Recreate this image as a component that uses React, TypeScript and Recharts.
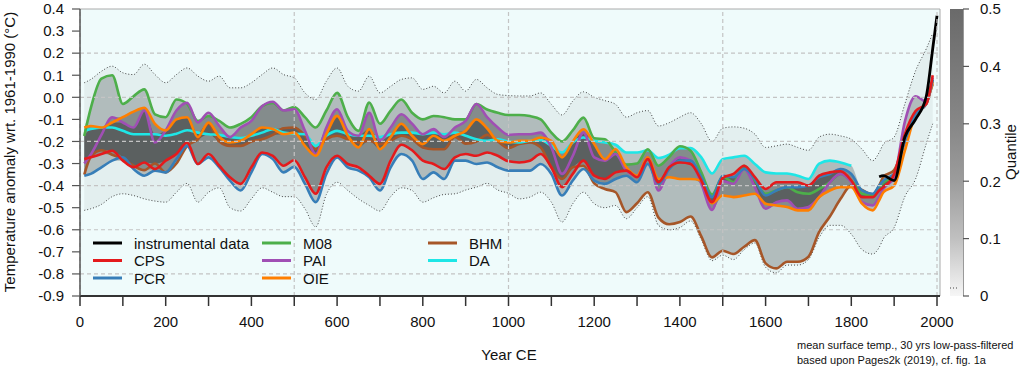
import React from 'react';
import { ComposedChart, Area, Line, XAxis, YAxis, CartesianGrid, ReferenceLine } from 'recharts';

if (typeof document !== 'undefined') document.body.style.margin = '0';

const FONT = '"Liberation Sans", Arial, Helvetica, sans-serif';

// sample years (CE)
const years = [
  10, 25, 50, 75, 100, 125, 150, 175, 200, 225, 250, 275, 300, 325, 350, 375, 400, 425, 450, 475, 500,
  525, 550, 575, 600, 625, 650, 675, 700, 725, 750, 775, 800, 825, 850, 875, 900, 925, 950, 975, 1000,
  1025, 1050, 1075, 1100, 1125, 1150, 1175, 1200, 1225, 1250, 1275, 1300, 1325, 1350, 1375, 1400, 1425, 1450, 1475, 1500,
  1525, 1550, 1575, 1600, 1625, 1650, 1675, 1700, 1725, 1750, 1775, 1800, 1825, 1850, 1865, 1875, 1900, 1925, 1950, 1975, 1990, 2000,
];

const cps = [
  -0.28, -0.272, -0.257, -0.242, -0.287, -0.317, -0.295, -0.325, -0.287, -0.257, -0.205, -0.302, -0.257, -0.31, -0.362, -0.392, -0.317, -0.25, -0.265, -0.31, -0.285,
  -0.362, -0.437, -0.317, -0.265, -0.302, -0.317, -0.355, -0.392, -0.287, -0.215, -0.24, -0.287, -0.302, -0.325, -0.272, -0.257, -0.265, -0.25, -0.265, -0.29,
  -0.295, -0.287, -0.257, -0.317, -0.407, -0.347, -0.287, -0.355, -0.37, -0.34, -0.332, -0.362, -0.28, -0.385, -0.317, -0.295, -0.302, -0.377, -0.475, -0.365,
  -0.347, -0.31, -0.362, -0.415, -0.385, -0.385, -0.385, -0.4, -0.355, -0.34, -0.335, -0.377, -0.452, -0.452, -0.422, -0.407, -0.347, -0.167, -0.062, -0.03, 0.1, null,
];

const pcr = [
  -0.355, -0.347, -0.317, -0.287, -0.272, -0.325, -0.355, -0.332, -0.34, -0.28, -0.22, -0.302, -0.272, -0.317, -0.377, -0.422, -0.34, -0.257, -0.28, -0.34, -0.315,
  -0.392, -0.475, -0.347, -0.272, -0.317, -0.332, -0.362, -0.422, -0.317, -0.257, -0.287, -0.37, -0.34, -0.37, -0.287, -0.287, -0.302, -0.295, -0.317, -0.332,
  -0.332, -0.332, -0.302, -0.347, -0.445, -0.377, -0.325, -0.377, -0.392, -0.37, -0.355, -0.385, -0.302, -0.392, -0.325, -0.287, -0.287, -0.362, -0.452, -0.355,
  -0.362, -0.325, -0.37, -0.445, -0.422, -0.407, -0.407, -0.4, -0.362, -0.347, -0.325, -0.347, -0.422, -0.437, -0.4, -0.377, -0.347, -0.197, -0.077, -0.03, 0.08, null,
];

const m08 = [
  -0.175, -0.05, 0.085, 0.1, -0.03, 0.005, 0.036, -0.077, -0.09, -0.01, -0.03, -0.107, -0.085, -0.107, -0.137, -0.12, -0.09, -0.04, -0.025, -0.06, -0.044,
  -0.09, -0.137, -0.06, 0.02, -0.09, -0.152, -0.024, -0.12, -0.06, -0.01, -0.07, -0.1, -0.085, -0.09, -0.1, -0.1, -0.03, -0.055, -0.07, -0.08,
  -0.08, -0.085, -0.1, -0.16, -0.2, -0.15, -0.092, -0.185, -0.19, -0.25, -0.305, -0.3, -0.235, -0.31, -0.27, -0.222, -0.242, -0.34, -0.44, -0.36,
  -0.385, -0.31, -0.377, -0.437, -0.422, -0.407, -0.43, -0.437, -0.415, -0.385, -0.347, -0.377, -0.437, -0.445, -0.407, -0.385, -0.355, -0.182, -0.077, -0.016, 0.08, null,
];

const pai = [
  -0.3, -0.26, -0.17, -0.09, -0.114, -0.137, -0.06, -0.205, -0.15, -0.06, -0.025, -0.114, -0.07, -0.13, -0.18, -0.137, -0.107, -0.04, -0.02, -0.06, -0.054,
  -0.152, -0.257, -0.137, -0.054, -0.152, -0.174, -0.07, -0.197, -0.137, -0.077, -0.12, -0.167, -0.144, -0.18, -0.137, -0.107, -0.03, -0.09, -0.137, -0.17,
  -0.167, -0.167, -0.16, -0.227, -0.347, -0.265, -0.16, -0.272, -0.287, -0.257, -0.332, -0.355, -0.272, -0.422, -0.317, -0.272, -0.287, -0.392, -0.51, -0.38,
  -0.392, -0.325, -0.407, -0.505, -0.475, -0.467, -0.505, -0.497, -0.452, -0.385, -0.347, -0.385, -0.475, -0.49, -0.452, -0.415, -0.362, -0.11, 0.005, -0.02, 0.09, null,
];

const oie = [
  -0.137, -0.13, -0.137, -0.114, -0.09, -0.065, -0.047, -0.12, -0.15, -0.1, -0.09, -0.18, -0.114, -0.18, -0.205, -0.197, -0.167, -0.137, -0.144, -0.167, -0.16,
  -0.22, -0.265, -0.167, -0.084, -0.174, -0.227, -0.144, -0.235, -0.18, -0.12, -0.174, -0.212, -0.174, -0.197, -0.174, -0.152, -0.1, -0.14, -0.197, -0.205,
  -0.197, -0.197, -0.182, -0.197, -0.272, -0.2, -0.145, -0.212, -0.28, -0.235, -0.317, -0.355, -0.272, -0.37, -0.362, -0.37, -0.37, -0.377, -0.48, -0.445,
  -0.452, -0.445, -0.437, -0.482, -0.49, -0.497, -0.512, -0.512, -0.452, -0.422, -0.407, -0.407, -0.482, -0.512, -0.467, -0.43, -0.4, -0.242, -0.077, -0.03, 0.07, null,
];

const bhm = [
  -0.35, -0.27, -0.24, -0.26, -0.28, -0.31, -0.33, -0.3, -0.34, -0.3, -0.22, -0.19, -0.12, -0.2, -0.22, -0.22, -0.2, -0.19, -0.17, -0.14, -0.137,
  -0.174, -0.235, -0.19, -0.174, -0.19, -0.205, -0.197, -0.212, -0.197, -0.174, -0.19, -0.227, -0.235, -0.235, -0.18, -0.21, -0.2, -0.17, -0.2, -0.23,
  -0.212, -0.204, -0.227, -0.317, -0.37, -0.317, -0.31, -0.39, -0.415, -0.43, -0.52, -0.48, -0.43, -0.545, -0.575, -0.565, -0.54, -0.63, -0.725, -0.695,
  -0.71, -0.677, -0.647, -0.752, -0.775, -0.745, -0.745, -0.722, -0.61, -0.54, -0.46, -0.4, -0.42, -0.44, -0.4, -0.36, -0.33, -0.2, -0.08, -0.02, 0.06, null,
];

const da = [
  -0.152, -0.144, -0.137, -0.137, -0.152, -0.167, -0.167, -0.167, -0.174, -0.165, -0.149, -0.16, -0.167, -0.17, -0.18, -0.185, -0.174, -0.16, -0.144, -0.16, -0.165,
  -0.167, -0.22, -0.174, -0.152, -0.167, -0.174, -0.174, -0.18, -0.167, -0.16, -0.16, -0.167, -0.16, -0.167, -0.16, -0.174, -0.19, -0.197, -0.19, -0.2,
  -0.204, -0.197, -0.194, -0.22, -0.25, -0.204, -0.182, -0.197, -0.205, -0.215, -0.25, -0.25, -0.24, -0.275, -0.26, -0.23, -0.23, -0.272, -0.345, -0.28,
  -0.272, -0.265, -0.302, -0.34, -0.345, -0.345, -0.355, -0.37, -0.3, -0.287, -0.295, -0.31, null, null, null, null, null, null, null, null, null, null,
];

// dotted envelope
const upper = [
  0.066, 0.081, 0.118, 0.141, 0.111, 0.103, 0.15, 0.103, 0.066, 0.103, 0.133, 0.096, 0.073, 0.096, 0.043, 0.043, 0.066, 0.103, 0.133, 0.103, 0.088,
  0.02, -0.01, 0.073, 0.133, 0.05, 0.028, 0.096, 0.02, 0.05, 0.081, 0.088, 0.036, 0.05, 0.02, 0.073, 0.028, 0.081, 0.043, 0.013, 0.008,
  0.006, 0.006, 0.02, -0.032, -0.08, -0.017, 0.025, 0, -0.015, -0.032, -0.09, -0.07, -0.06, -0.13, -0.115, -0.09, -0.07, -0.12, -0.2, -0.14,
  -0.134, -0.14, -0.167, -0.227, -0.22, -0.212, -0.227, -0.24, -0.18, -0.167, -0.175, -0.19, -0.235, -0.287, -0.25, -0.212, -0.18, -0.03, 0.12, 0.22, 0.29, null,
];

const lower = [
  -0.512, -0.505, -0.485, -0.45, -0.437, -0.445, -0.46, -0.47, -0.475, -0.43, -0.39, -0.475, -0.43, -0.41, -0.5, -0.515, -0.46, -0.41, -0.43, -0.45, -0.45,
  -0.505, -0.587, -0.44, -0.385, -0.422, -0.46, -0.49, -0.515, -0.45, -0.41, -0.422, -0.475, -0.455, -0.44, -0.437, -0.42, -0.407, -0.39, -0.42, -0.435,
  -0.46, -0.452, -0.43, -0.475, -0.565, -0.482, -0.43, -0.482, -0.5, -0.49, -0.55, -0.5, -0.45, -0.58, -0.6, -0.59, -0.56, -0.645, -0.74, -0.715,
  -0.735, -0.69, -0.66, -0.77, -0.795, -0.76, -0.76, -0.735, -0.635, -0.58, -0.58, -0.62, -0.69, -0.71, -0.68, -0.64, -0.59, -0.45, -0.37, -0.21, -0.12, null,
];

// instrumental record (only at the end)
const instYears = [1865, 1875, 1900, 1925, 1950, 1975, 1990, 2000];
const instValues = [-0.36, -0.355, -0.377, -0.18, -0.1, 0.005, 0.22, 0.37];

const xTicks = [0, 100, 200, 300, 400, 500, 600, 700, 800, 900, 1000, 1100, 1200, 1300, 1400, 1500, 1600, 1700, 1800, 1900, 2000];
const yTicks = [0.4, 0.3, 0.2, 0.1, 0, -0.1, -0.2, -0.3, -0.4, -0.5, -0.6, -0.7, -0.8, -0.9];
const qTicks = [0, 0.1, 0.2, 0.3, 0.4, 0.5];
const gridY = [0.2, 0, -0.2, -0.4, -0.6, -0.8];
const gridX = [0, 500, 1000, 1500, 2000];

const series = [
  { key: 'bhm', name: 'BHM', color: '#a65628', values: bhm },
  { key: 'da', name: 'DA', color: '#1ee6e6', values: da },
  { key: 'm08', name: 'M08', color: '#4daf4a', values: m08 },
  { key: 'pai', name: 'PAI', color: '#a04fb4', values: pai },
  { key: 'oie', name: 'OIE', color: '#ff7f00', values: oie },
  { key: 'pcr', name: 'PCR', color: '#377eb8', values: pcr },
  { key: 'cps', name: 'CPS', color: '#e41a1c', values: cps },
];

const legendItems = [
  { name: 'instrumental data', color: '#000000', col: 0, row: 0 },
  { name: 'CPS', color: '#e41a1c', col: 0, row: 1 },
  { name: 'PCR', color: '#377eb8', col: 0, row: 2 },
  { name: 'M08', color: '#4daf4a', col: 1, row: 0 },
  { name: 'PAI', color: '#a04fb4', col: 1, row: 1 },
  { name: 'OIE', color: '#ff7f00', col: 1, row: 2 },
  { name: 'BHM', color: '#a65628', col: 2, row: 0 },
  { name: 'DA', color: '#1ee6e6', col: 2, row: 1 },
];
const legendColX = [93, 262, 428];
const legendRowY = [243, 260.5, 278];

// build chart rows; shading bands are nested ranges of the sorted reconstructions
const rows = years.map((year, i) => {
  const row: Record<string, unknown> = { year };
  series.forEach(s => { row[s.key] = s.values[i]; });
  const k = instYears.indexOf(year);
  row.inst = k >= 0 ? instValues[k] : null;
  row.upper = upper[i];
  row.lower = lower[i];
  row.env = upper[i] == null ? null : [lower[i], upper[i]];
  const vals = series.map(s => s.values[i]).filter((v): v is number => v != null).sort((a, b) => a - b);
  const n = vals.length;
  for (let b = 0; b < 3; b++) {
    row['band' + b] = n >= 2 * b + 2 ? [vals[b], vals[n - 1 - b]] : null;
  }
  return row;
});

const tickStyle = { fill: '#111', fontSize: 15, fontFamily: FONT };

export default function App() {
  return (
    <div style={{ position: 'relative', width: 1022, height: 370, fontFamily: FONT, background: '#fff' }}>
      <ComposedChart width={1022} height={370} data={rows} margin={{ top: 9, right: 0, bottom: 44, left: 0 }}>
        <CartesianGrid yAxisId="t" horizontal={false} vertical={false} fill="#effbfb" />
        <XAxis
          dataKey="year"
          type="number"
          domain={[0, 2007]}
          ticks={xTicks}
          interval={0}
          allowDataOverflow
          height={30}
          tickSize={10}
          tickMargin={10}
          tick={tickStyle}
          tickFormatter={(v: number) => (v % 200 === 0 ? String(v) : '')}
          axisLine={{ stroke: '#333', strokeWidth: 2 }}
          tickLine={{ stroke: '#333', strokeWidth: 1.5 }}
        />
        <YAxis
          yAxisId="t"
          type="number"
          domain={[-0.9, 0.4]}
          ticks={yTicks}
          interval={0}
          allowDataOverflow
          width={80}
          tickSize={8}
          tickMargin={8}
          tick={tickStyle}
          tickFormatter={(v: number) => v.toFixed(1)}
          axisLine={{ stroke: '#555', strokeWidth: 1.5 }}
          tickLine={{ stroke: '#555', strokeWidth: 1.2 }}
        />
        <YAxis yAxisId="cb" orientation="right" width={23} domain={[0, 1]} tick={false} axisLine={false} tickLine={false} />
        <YAxis
          yAxisId="q"
          orientation="right"
          type="number"
          domain={[0, 0.5]}
          ticks={qTicks}
          interval={0}
          allowDataOverflow
          width={59}
          tickSize={6}
          tickMargin={11}
          tick={tickStyle}
          tickFormatter={(v: number) => (v === 0 ? '0' : v.toFixed(1))}
          axisLine={{ stroke: '#555', strokeWidth: 1.2 }}
          tickLine={{ stroke: '#555', strokeWidth: 1.2 }}
        />

        <Area yAxisId="t" dataKey="env" type="monotone" stroke="none" fill="#8a9a9a" fillOpacity={0.12} isAnimationActive={false} />
        <Area yAxisId="t" dataKey="band0" type="monotone" stroke="none" fill="#404646" fillOpacity={0.3} isAnimationActive={false} />
        <Area yAxisId="t" dataKey="band1" type="monotone" stroke="none" fill="#303434" fillOpacity={0.35} isAnimationActive={false} />
        <Area yAxisId="t" dataKey="band2" type="monotone" stroke="none" fill="#2a2a2a" fillOpacity={0.45} isAnimationActive={false} />

        <Line yAxisId="t" dataKey="upper" type="monotone" stroke="#444" strokeWidth={1} strokeDasharray="1 2" dot={false} isAnimationActive={false} />
        <Line yAxisId="t" dataKey="lower" type="monotone" stroke="#444" strokeWidth={1} strokeDasharray="1 2" dot={false} isAnimationActive={false} />

        {series.map(s => (
          <Line
            key={s.key}
            yAxisId="t"
            dataKey={s.key}
            type="monotone"
            stroke={s.color}
            strokeWidth={2.6}
            dot={false}
            isAnimationActive={false}
          />
        ))}
        <Line yAxisId="t" dataKey="inst" type="monotone" stroke="#000" strokeWidth={2.8} dot={false} isAnimationActive={false} />

        {gridY.map(v => (
          <ReferenceLine key={'gy' + v} yAxisId="t" y={v} stroke="#c4c4c4" strokeWidth={1.2} strokeDasharray="4 3" />
        ))}
        {gridX.map(v => (
          <ReferenceLine key={'gx' + v} yAxisId="t" x={v} stroke="#c4c4c4" strokeWidth={1.2} strokeDasharray="4 3" />
        ))}
        <ReferenceLine yAxisId="t" y={0.4} stroke="#aaa" strokeWidth={1} />
        <ReferenceLine yAxisId="t" x={2007} stroke="#aaa" strokeWidth={1} />
      </ComposedChart>

      <svg width={1022} height={370} style={{ position: 'absolute', left: 0, top: 0, pointerEvents: 'none' }}>
        <defs>
          <linearGradient id="qbar" x1="0" y1="0" x2="0" y2="1">
            <stop offset="0%" stopColor="#6a6a6a" />
            <stop offset="40%" stopColor="#878787" />
            <stop offset="60%" stopColor="#9c9c9c" />
            <stop offset="80%" stopColor="#c0c0c0" />
            <stop offset="100%" stopColor="#f6f6f6" />
          </linearGradient>
        </defs>
        <rect x={950} y={9} width={13} height={287} fill="url(#qbar)" />
        <line x1={950} y1={288} x2={957} y2={288} stroke="#444" strokeDasharray="1 2" />

        {legendItems.map(it => (
          <g key={it.name}>
            <line
              x1={legendColX[it.col]}
              x2={legendColX[it.col] + 29}
              y1={legendRowY[it.row]}
              y2={legendRowY[it.row]}
              stroke={it.color}
              strokeWidth={3}
            />
            <text
              x={legendColX[it.col] + 41}
              y={legendRowY[it.row] + 5.5}
              fontSize={15}
              fontFamily={FONT}
              fill="#111"
            >
              {it.name}
            </text>
          </g>
        ))}

        <text x={14.5} y={152} transform="rotate(-90 14.5 152)" textAnchor="middle" fontSize={15} fontFamily={FONT} fill="#111">
          Temperature anomaly wrt. 1961-1990 (°C)
        </text>
        <text x={509} y={359.5} textAnchor="middle" fontSize={15} fontFamily={FONT} fill="#111">
          Year CE
        </text>
        <text x={1016} y={152} transform="rotate(-90 1016 152)" textAnchor="middle" fontSize={15} fontFamily={FONT} fill="#111">
          Quantile
        </text>
        <text x={797} y={349} fontSize={11} fontFamily={FONT} fill="#111">
          mean surface temp., 30 yrs low-pass-filtered
        </text>
        <text x={797} y={364} fontSize={11} fontFamily={FONT} fill="#111">
          based upon Pages2k (2019), cf. fig. 1a
        </text>
      </svg>
    </div>
  );
}
